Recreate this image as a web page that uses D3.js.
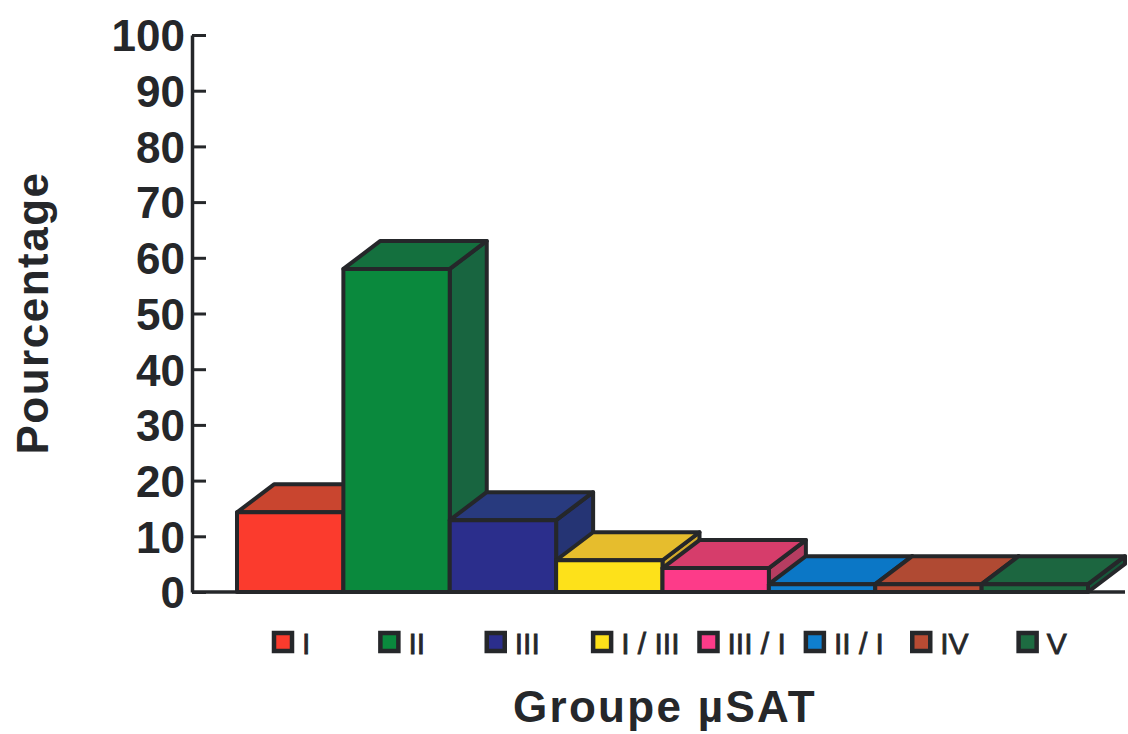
<!DOCTYPE html>
<html>
<head>
<meta charset="utf-8">
<script src="https://cdn.jsdelivr.net/npm/d3@7"></script>
<style>
  html, body { margin: 0; padding: 0; background: #ffffff; }
  svg { display: block; }
</style>
</head>
<body>
<svg id="chart" width="1128" height="734"></svg>
<script>
// µSAT groups and their share (%)
const groups = ["I", "II", "III", "I / III", "III / I", "II / I", "IV", "V"];
const percentages = [14.3, 58.0, 12.9, 5.7, 4.3, 1.4, 1.4, 1.4];
const yTicks = [0, 10, 20, 30, 40, 50, 60, 70, 80, 90, 100];

// face colours per group: front, top, side
const frontColors = ["#fb3b2d", "#0a893d", "#2b2e8c", "#fde11a", "#fd3b89", "#0f7fcf", "#b84b33", "#1d6b41"];
const topColors   = ["#c9452f", "#14703e", "#283a7e", "#e6bd2d", "#d63d6b", "#0b77c6", "#b04a33", "#1c6640"];
const sideColors  = ["#b33c2c", "#186540", "#253474", "#d2a92a", "#b63d61", "#0b66ab", "#8f3c2a", "#17573a"];

const ink = "#25272a";
const svg = d3.select("#chart");

const y = d3.scaleLinear().domain([0, 100]).range([592, 35]);
const x = d3.scaleBand().domain(groups).range([237, 1088]).padding(0);

// perspective offset of the back faces
const depthX = 37, depthY = 28;

// axis baseline
svg.append("line")
  .attr("x1", 192).attr("x2", x.range()[1] + depthX)
  .attr("y1", y(0)).attr("y2", y(0))
  .attr("stroke", ink).attr("stroke-width", 3.5);

// y axis: ticks point inward, labels on the left
const yAxis = d3.axisLeft(y)
  .tickValues(yTicks)
  .tickSizeInner(-14)
  .tickSizeOuter(0)
  .tickPadding(7)
  .tickFormat(d3.format("d"));

const gy = svg.append("g").attr("transform", "translate(192,0)").call(yAxis);
gy.select(".domain").attr("stroke", ink).attr("stroke-width", 3.5);
gy.selectAll(".tick line").attr("stroke", ink).attr("stroke-width", 3);
gy.selectAll(".tick text")
  .attr("fill", ink)
  .attr("font-family", "'Liberation Sans', Arial, sans-serif")
  .attr("font-weight", "bold")
  .attr("font-size", 44)
  .attr("dy", "0.36em");

// 3-D bars, drawn left to right so each one covers its neighbour's side
const data = groups.map((g, i) => ({ g, v: percentages[i], i }));
const bars = svg.append("g")
  .attr("stroke", ink)
  .attr("stroke-width", 4)
  .attr("stroke-linejoin", "round");

data.forEach(d => {
  const x0 = x(d.g), x1 = x0 + x.bandwidth();
  const yt = y(d.v), yb = y(0);
  const g = bars.append("g");
  // side face
  g.append("path")
    .attr("d", `M${x1},${yb} L${x1 + depthX},${yb - depthY} L${x1 + depthX},${yt - depthY} L${x1},${yt} Z`)
    .attr("fill", sideColors[d.i]);
  // top face
  g.append("path")
    .attr("d", `M${x0},${yt} L${x0 + depthX},${yt - depthY} L${x1 + depthX},${yt - depthY} L${x1},${yt} Z`)
    .attr("fill", topColors[d.i]);
  // front face
  g.append("rect")
    .attr("x", x0).attr("y", yt)
    .attr("width", x.bandwidth()).attr("height", yb - yt)
    .attr("fill", frontColors[d.i]);
});

// legend row under the bars
const legend = svg.append("g");
data.forEach(d => {
  const lx = x(d.g) + 37;
  legend.append("rect")
    .attr("x", lx).attr("y", 633)
    .attr("width", 18).attr("height", 18)
    .attr("fill", frontColors[d.i])
    .attr("stroke", ink).attr("stroke-width", 4.5);
  legend.append("text")
    .attr("x", lx + 28).attr("y", 654)
    .attr("fill", ink)
    .attr("stroke", ink)
    .attr("stroke-width", 0.8)
    .attr("font-family", "'Liberation Sans', Arial, sans-serif")
    .attr("font-size", 30)
    .text(d.g);
});

// axis titles
svg.append("text")
  .attr("x", 665).attr("y", 722)
  .attr("text-anchor", "middle")
  .attr("fill", ink)
  .attr("font-family", "'Liberation Sans', Arial, sans-serif")
  .attr("font-weight", "bold")
  .attr("font-size", 44)
  .attr("letter-spacing", 2.3)
  .text("Groupe µSAT");

svg.append("text")
  .attr("transform", "translate(48,313) rotate(-90)")
  .attr("text-anchor", "middle")
  .attr("fill", ink)
  .attr("font-family", "'Liberation Sans', Arial, sans-serif")
  .attr("font-weight", "bold")
  .attr("font-size", 44)
  .attr("letter-spacing", 1.5)
  .text("Pourcentage");
</script>
</body>
</html>
